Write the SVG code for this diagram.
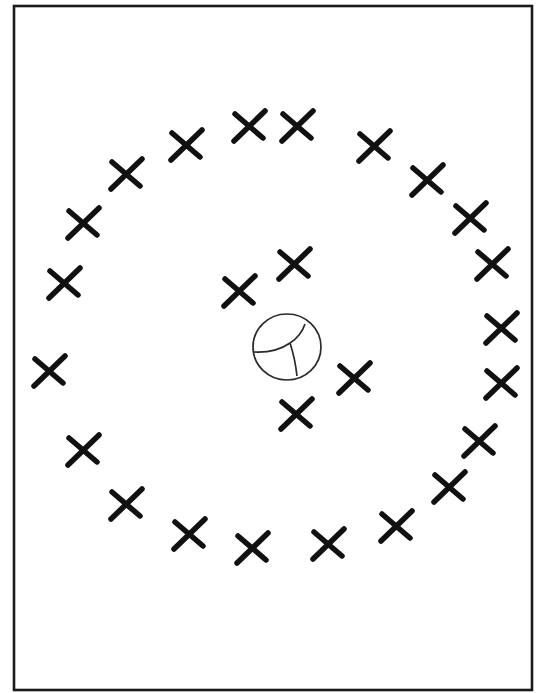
<svg xmlns="http://www.w3.org/2000/svg" xmlns:xlink="http://www.w3.org/1999/xlink" width="543" height="693" viewBox="0 0 543 693">
<style>
.frame{fill:#fff;stroke:#1a1a1a;stroke-width:2.6}
.x{fill:none;stroke:#111;stroke-width:5.5;stroke-linecap:round}
.ball{fill:none;stroke:#2a2a2a;stroke-width:1.7}
</style>
<defs>
<path id="mark" class="x" d="M-16,16 L15,-14 M-15,-11 L13,13"/>
</defs>
<rect class="frame" x="14" y="6" width="518" height="684"/>
<g id="ball">
<ellipse class="ball" cx="287" cy="347" rx="34" ry="33"/>
<path class="ball" d="M254,352 Q276,353 290,343 M290,343 Q301,336 305,324 M290,343 Q295,358 297,376"/>
</g>
<g id="outer">
<use id="m1" xlink:href="#mark" x="250" y="125"/>
<use id="m2" xlink:href="#mark" x="298" y="125"/>
<use id="m3" xlink:href="#mark" x="187" y="144"/>
<use id="m4" xlink:href="#mark" x="127" y="173"/>
<use id="m5" xlink:href="#mark" x="84" y="222"/>
<use id="m6" xlink:href="#mark" x="65" y="282"/>
<use id="m7" xlink:href="#mark" x="50" y="370"/>
<use id="m8" xlink:href="#mark" x="84" y="449"/>
<use id="m9" xlink:href="#mark" x="127" y="503"/>
<use id="m10" xlink:href="#mark" x="190" y="533"/>
<use id="m11" xlink:href="#mark" x="253" y="547"/>
<use id="m12" xlink:href="#mark" x="329" y="543"/>
<use id="m13" xlink:href="#mark" x="397" y="525"/>
<use id="m14" xlink:href="#mark" x="450" y="486"/>
<use id="m15" xlink:href="#mark" x="480" y="440"/>
<use id="m16" xlink:href="#mark" x="502" y="382"/>
<use id="m17" xlink:href="#mark" x="502" y="327"/>
<use id="m18" xlink:href="#mark" x="493" y="263"/>
<use id="m19" xlink:href="#mark" x="471" y="217"/>
<use id="m20" xlink:href="#mark" x="428" y="179"/>
<use id="m21" xlink:href="#mark" x="375" y="145"/>
</g>
<g id="inner">
<use id="m22" xlink:href="#mark" x="295" y="263"/>
<use id="m23" xlink:href="#mark" x="240" y="290"/>
<use id="m24" xlink:href="#mark" x="355" y="377"/>
<use id="m25" xlink:href="#mark" x="297" y="413"/>
</g>
</svg>
